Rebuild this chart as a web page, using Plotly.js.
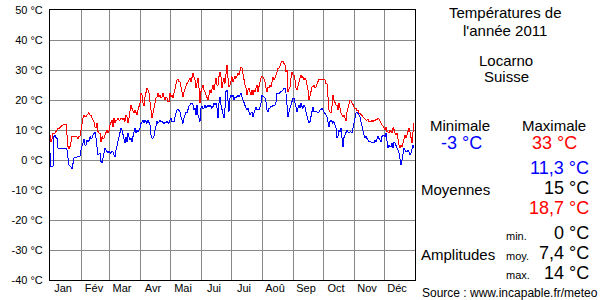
<!DOCTYPE html>
<html><head><meta charset="utf-8">
<script src="https://cdn.plot.ly/plotly-3.0.1.min.js"></script>
<style>html,body{margin:0;padding:0;background:#fff}#c{width:600px;height:300px}
#c .scatterlayer path, #c .gridlayer path, #c path.xline, #c path.yline {shape-rendering: crispEdges}</style>
</head><body><div id="c"></div>
<script>
const tmax = [
8.3,6.1,7.0,8.9,8.9,8.9,9.5,10.0,10.5,10.5,
11.0,11.1,11.5,11.7,11.7,12.0,12.0,7.8,4.5,3.8,
4.5,6.0,8.0,8.0,8.0,8.0,7.8,7.8,6.9,8.0,
8.0,10.0,13.3,14.0,15.0,14.5,14.5,15.0,15.5,15.8,
15.0,15.0,14.0,13.5,12.8,11.0,10.6,12.2,9.5,9.0,
8.9,6.1,7.8,7.2,7.2,8.3,9.0,10.0,8.9,9.5,
11.7,12.5,13.3,11.1,13.9,12.5,13.3,13.3,13.9,13.3,
13.3,14.0,14.0,13.5,14.0,12.8,15.0,14.4,12.2,14.0,
16.7,18.3,17.2,16.0,15.6,16.7,15.6,15.0,16.7,17.5,
18.9,22.2,21.7,18.9,18.0,21.1,23.3,23.9,23.3,22.2,
19.4,16.7,13.9,15.6,17.8,19.4,20.6,21.1,22.2,21.1,
21.7,20.6,21.1,22.2,21.1,20.0,21.1,20.6,19.4,19.4,
22.2,21.1,21.7,20.6,22.2,23.9,25.0,26.7,26.9,26.1,
26.1,24.4,22.8,21.1,22.8,23.9,25.0,25.5,26.1,26.7,
27.2,26.1,28.3,28.9,27.8,26.7,23.9,26.1,27.2,23.9,
18.9,22.8,24.4,25.0,23.3,22.8,21.7,21.1,20.0,21.7,
23.3,22.2,23.9,25.0,23.3,25.5,27.2,25.0,25.0,27.8,
29.4,27.8,23.9,26.1,27.2,25.5,29.4,31.7,27.2,24.4,
25.0,26.1,27.8,26.1,27.2,27.8,27.2,27.8,28.9,28.3,
29.4,31.1,30.6,28.3,26.1,25.0,23.9,21.7,23.3,23.9,
22.8,21.7,23.3,21.7,23.3,22.8,23.9,25.0,22.8,25.0,
26.1,27.2,27.8,27.8,26.7,26.1,23.9,22.8,24.4,24.0,
25.0,24.4,26.1,27.8,26.7,27.2,28.3,30.0,30.6,30.6,
31.7,32.2,32.8,33.0,32.2,31.7,29.4,30.0,22.8,23.9,
24.4,27.2,29.4,28.3,28.3,26.7,23.9,23.3,25.5,26.1,
27.2,28.3,27.2,27.8,26.7,27.2,26.7,25.0,23.3,20.0,
21.1,22.8,24.4,24.4,25.0,23.9,24.4,25.5,26.7,27.0,
27.0,27.0,27.0,27.0,26.7,26.7,25.5,25.5,21.1,16.7,
16.1,15.6,17.8,21.7,20.0,18.9,18.3,18.3,16.7,18.9,
16.7,15.6,15.0,14.4,15.0,13.5,13.0,16.0,17.5,19.0,
20.0,19.7,19.2,18.5,17.6,17.0,17.2,16.5,16.7,15.6,
15.6,15.0,14.8,14.4,13.9,13.7,13.3,13.3,13.5,12.8,
13.0,12.6,13.3,12.8,13.3,13.0,13.7,13.3,13.9,13.7,
13.0,12.2,11.7,11.4,10.8,10.0,11.1,9.4,9.4,8.9,
10.0,9.4,9.0,10.8,10.2,8.9,8.3,8.9,6.1,5.0,
3.9,5.0,4.4,6.1,7.8,8.3,7.2,8.3,9.4,10.6,
9.4,7.2,5.6,9.4,12.2];
const tmin = [
2.5,-2.2,-2.2,-2.0,7.8,8.3,7.5,7.2,4.0,3.9,
3.9,3.9,3.9,3.9,3.9,3.9,3.9,3.3,-0.6,-1.7,
-2.0,-2.2,-3.0,-1.7,0.6,0.8,0.9,1.0,1.1,1.1,
1.3,3.3,4.4,6.1,6.9,5.0,5.0,6.7,6.1,6.5,
7.8,7.2,7.2,8.3,9.0,9.4,7.2,3.3,1.7,2.0,
2.2,-0.5,-1.1,0.6,2.2,3.9,3.3,2.8,2.4,2.8,
2.5,2.2,2.8,2.8,1.7,1.1,3.3,5.0,6.1,7.8,
9.0,10.6,10.0,8.5,6.7,5.6,7.8,6.1,8.9,7.5,
6.7,7.2,6.1,7.8,9.4,10.6,8.9,10.0,9.4,10.0,
10.6,12.2,12.8,13.3,12.2,13.3,12.8,12.2,13.3,12.0,
11.7,8.3,7.2,7.2,7.8,10.0,12.2,12.8,12.2,13.0,
13.3,12.8,12.8,12.5,12.2,12.5,12.4,12.8,12.5,12.2,
13.3,13.9,12.8,12.8,12.8,14.4,15.6,16.7,16.9,16.5,
16.1,14.4,12.8,12.2,13.9,15.6,16.1,15.6,17.2,18.0,
18.3,18.9,18.9,18.3,16.7,17.2,15.0,18.3,15.0,13.3,
12.8,17.2,17.8,17.2,17.2,18.3,17.2,17.8,18.3,17.8,
18.3,17.8,17.2,17.8,18.9,18.3,18.9,17.2,13.9,18.9,
21.1,18.3,16.7,15.6,13.9,17.2,22.8,23.3,19.4,16.1,
20.6,21.7,21.1,21.7,20.0,21.1,20.6,21.1,21.7,21.1,
21.7,22.2,21.1,20.0,18.9,18.3,17.2,16.7,17.2,16.1,
15.0,15.6,16.1,14.4,15.6,17.2,17.8,16.7,16.7,16.7,
17.8,18.9,21.7,21.1,21.1,20.6,19.4,16.7,16.1,17.2,
17.4,17.8,17.8,18.3,18.3,18.3,19.4,22.2,22.2,22.2,
22.5,22.8,22.8,23.3,23.9,23.9,22.2,18.9,14.4,16.1,
17.2,18.3,18.9,20.6,20.6,18.9,16.7,16.1,17.2,18.3,
17.2,18.9,17.8,17.2,18.3,17.8,16.1,15.0,13.9,12.2,
12.8,15.0,17.2,17.8,16.1,16.1,15.9,15.9,15.9,15.9,
16.7,16.7,17.2,16.7,16.1,15.6,15.0,14.4,12.8,11.1,
12.8,13.3,12.8,12.2,12.8,11.7,10.6,7.2,7.8,10.0,
9.4,10.6,6.1,4.4,7.5,8.5,9.5,10.0,9.4,9.2,
9.4,9.4,8.9,10.6,12.8,14.4,15.6,16.1,15.6,14.8,
14.4,12.8,11.1,9.4,8.3,7.5,7.8,7.2,6.7,6.1,
6.1,6.1,5.6,6.1,5.6,6.7,6.1,7.2,7.8,7.2,
6.7,6.1,7.8,8.3,8.3,7.8,8.9,5.6,3.9,5.0,
4.4,4.4,5.6,3.9,6.1,5.6,5.0,3.9,3.3,2.2,
-0.6,-1.7,0.0,2.2,3.9,3.3,2.8,2.8,3.3,2.8,
1.7,2.2,4.4,5.0,3.9];
const monthStarts = [0,31,59,90,120,151,181,212,243,273,304,334];
const monthLabels = ['Jan','Fév','Mar','Avr','Mai','Jui','Jui','Aoû','Sep','Oct','Nov','Déc'];
const yTicks = [-40,-30,-20,-10,0,10,20,30,40,50];

const days = tmax.map((_, i) => i);
const FONT = 'Liberation Sans, Arial, sans-serif';
const L = 50, T = 10, W = 365, H = 270;
function ann(text, px, py, size, color, xanchor) {
  return {text: text, x: (px - L) / W, y: (T + H - py) / H, xref: 'paper', yref: 'paper',
    showarrow: false, xanchor: xanchor || 'center', yanchor: 'middle',
    font: {family: FONT, size: size, color: color || '#000'}};
}
const traces = [
  {x: days, y: tmax, type: 'scatter', mode: 'lines', line: {color: '#ff0000', width: 1}, hoverinfo: 'skip'},
  {x: days, y: tmin, type: 'scatter', mode: 'lines', line: {color: '#0000ff', width: 1}, hoverinfo: 'skip'},
  {x: [0], y: [0], xaxis: 'x2', type: 'scatter', mode: 'markers', marker: {opacity: 0}, hoverinfo: 'skip'}
];
const layout = {
  width: 600, height: 300, showlegend: false,
  paper_bgcolor: '#fff', plot_bgcolor: '#fff',
  margin: {l: L, r: 600 - L - W, t: T, b: 300 - T - H, pad: 0},
  font: {family: FONT, size: 11, color: '#000'},
  xaxis: {range: [0, 365], tickmode: 'array', tickvals: monthStarts.slice(1), showticklabels: false,
    showgrid: true, gridcolor: '#888888', gridwidth: 1, zeroline: false, ticks: '',
    showline: true, mirror: true, linecolor: '#000', linewidth: 1},
  xaxis2: {range: [0, 365], overlaying: 'x', anchor: 'y', side: 'bottom', tickmode: 'array',
    tickvals: monthStarts.map(s => s + 13), ticktext: monthLabels, showgrid: false,
    zeroline: false, showline: false, ticks: '', tickfont: {family: FONT, size: 11, color: '#000'}},
  yaxis: {range: [-40, 50], tickmode: 'array', tickvals: yTicks, ticktext: yTicks.map(v => v + ' °C'),
    showgrid: true, gridcolor: '#888888', gridwidth: 1, zeroline: false, ticks: 'outside', ticklen: 4,
    tickcolor: 'rgba(0,0,0,0)', showline: true, mirror: true, linecolor: '#000', linewidth: 1,
    tickfont: {family: FONT, size: 11, color: '#000'}},
  annotations: [
    ann('Températures de', 505, 12, 15),
    ann("l'année 2011", 505, 30, 15),
    ann('Locarno', 506, 60, 15),
    ann('Suisse', 506, 77, 15),
    ann('Minimale', 460, 125, 15),
    ann('Maximale', 554, 125, 15),
    ann('-3 °C', 461, 143, 18, '#0000ff'),
    ann('33 °C', 554, 143, 18, '#ff0000'),
    ann('11,3 °C', 591, 168, 18, '#0000ff', 'right'),
    ann('Moyennes', 419, 189, 15, '#000', 'left'),
    ann('15 °C', 591, 188, 18, '#000', 'right'),
    ann('18,7 °C', 591, 208, 18, '#ff0000', 'right'),
    ann('min.', 504, 236, 11, '#000', 'left'),
    ann('0 °C', 591, 233, 18, '#000', 'right'),
    ann('Amplitudes', 419, 254, 15, '#000', 'left'),
    ann('moy.', 504, 256, 11, '#000', 'left'),
    ann('7,4 °C', 591, 253, 18, '#000', 'right'),
    ann('max.', 504, 275, 11, '#000', 'left'),
    ann('14 °C', 591, 273, 18, '#000', 'right'),
    ann('Source : www.incapable.fr/meteo', 420, 293, 12, '#000', 'left')
  ]
};
Plotly.newPlot('c', traces, layout, {staticPlot: true, displayModeBar: false});
</script></body></html>
